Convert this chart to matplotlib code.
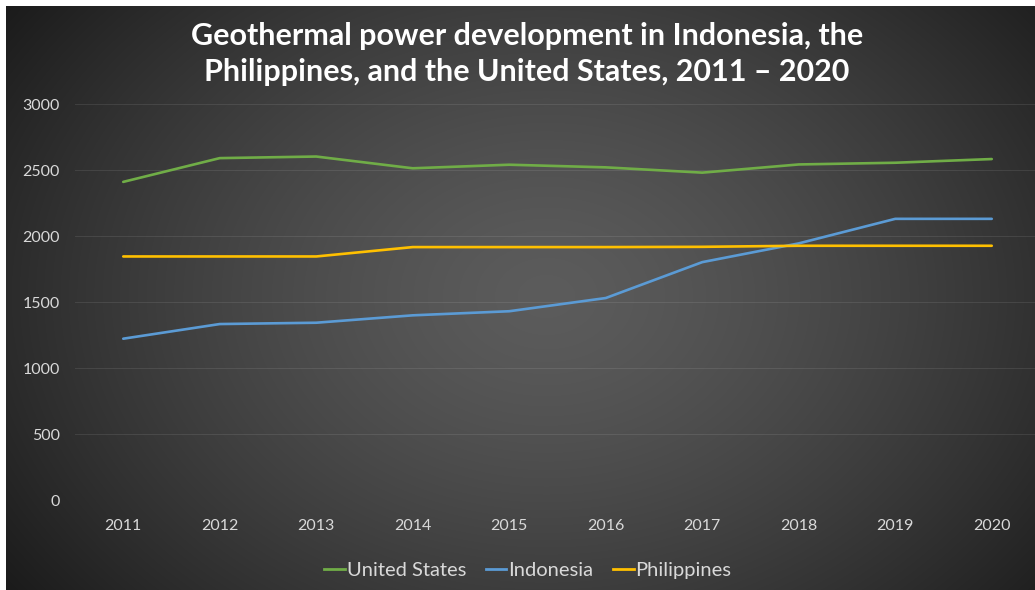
import numpy as np
import matplotlib
matplotlib.use("Agg")
import matplotlib.pyplot as plt
from matplotlib.lines import Line2D

years = ["2011", "2012", "2013", "2014", "2015", "2016", "2017", "2018", "2019", "2020"]
united_states = [2410, 2590, 2602, 2513, 2540, 2520, 2480, 2542, 2555, 2583]
indonesia = [1222, 1333, 1343, 1399, 1430, 1530, 1802, 1944, 2130, 2130]
philippines = [1845, 1845, 1845, 1916, 1916, 1916, 1918, 1926, 1926, 1926]
yticks = [0, 500, 1000, 1500, 2000, 2500, 3000]

W, H = 1035, 590
fig = plt.figure(figsize=(W / 100, H / 100), dpi=100)
fig.patch.set_facecolor("white")

# radial gradient background
bg = fig.add_axes([6 / W, 0, (W - 6) / W, (H - 6) / H])
bg.set_axis_off()
yy, xx = np.mgrid[0:584, 0:1029]
cx, cy = 540, 290
r = np.sqrt(((xx - cx) / 560) ** 2 + ((yy - cy) / 420) ** 2)
v = 0.36 - 0.2 * np.clip(r, 0, 1.2) ** 1.4
img = np.dstack([v, v, v])
bg.imshow(img, aspect="auto", extent=[0, 1, 0, 1], origin="upper")
bg.set_xlim(0, 1)
bg.set_ylim(0, 1)

font = "Lato"
ax = fig.add_axes([75 / W, 90 / H, 965 / W, 396 / H])
ax.set_facecolor("none")
x = np.arange(len(years))
ax.plot(x, united_states, color="#70AD47", lw=1.9, solid_capstyle="round")
ax.plot(x, indonesia, color="#5B9BD5", lw=1.9, solid_capstyle="round")
ax.plot(x, philippines, color="#FFC000", lw=1.9, solid_capstyle="round")
ax.set_xlim(-0.5, 9.5)
ax.set_ylim(0, 3000)
ax.set_yticks(yticks)
ax.set_xticks(x)
ax.set_xticklabels(years)
ax.grid(axis="y", color="#ffffff", alpha=0.09, lw=0.8)
ax.set_axisbelow(True)
for s in ax.spines.values():
    s.set_visible(False)
ax.tick_params(length=0, colors="#d9d9d9", labelsize=11.5)
for lab in ax.get_xticklabels() + ax.get_yticklabels():
    lab.set_family(font)
ax.tick_params(axis="y", pad=11)
ax.tick_params(axis="x", pad=14)

fig.text(527 / W, 1 - 54 / H, "Geothermal power development in Indonesia, the\nPhilippines, and the United States, 2011 \u2013 2020",
         ha="center", va="center", color="white", fontsize=22, fontweight="bold",
         family=font, linespacing=1.35)

handles = [Line2D([], [], color="#70AD47", lw=2),
           Line2D([], [], color="#5B9BD5", lw=2),
           Line2D([], [], color="#FFC000", lw=2)]
leg = fig.legend(handles, ["United States", "Indonesia", "Philippines"],
                 loc="center", bbox_to_anchor=(528 / W, 1 - 570 / H), ncol=3,
                 frameon=False, handlelength=1.0, handletextpad=0.1, columnspacing=1.0,
                 prop={"family": font, "size": 14.5})
for t in leg.get_texts():
    t.set_color("#d9d9d9")

fig.savefig("out.png", dpi=100, facecolor=fig.get_facecolor())
